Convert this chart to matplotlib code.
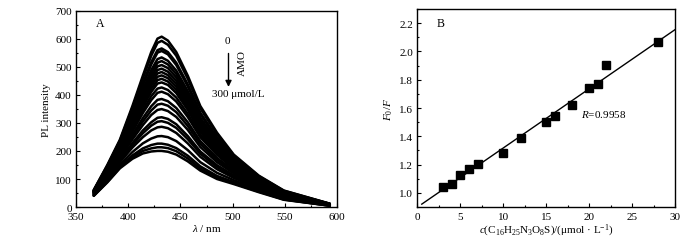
import matplotlib
matplotlib.use("Agg")
import matplotlib.pyplot as plt
from matplotlib.ticker import MultipleLocator, FormatStrFormatter
import numpy as np

plt.rcParams['font.family'] = ['Liberation Serif', 'DejaVu Serif']
plt.rcParams['mathtext.fontset'] = 'custom'
plt.rcParams['mathtext.rm'] = 'Liberation Serif'
plt.rcParams['mathtext.it'] = 'Liberation Serif:italic'
plt.rcParams['font.size'] = 8

# panel A: PL spectra, one row per AMO concentration (0 -> 300 umol/L)
wavelength = [367, 380, 392, 404, 414, 422, 428, 432, 438, 446, 457, 469, 485, 501, 525, 549, 593]
spectra = [
    [61, 150, 240, 360, 468, 552, 600, 607, 593, 552, 468, 360, 265, 187, 112, 59, 12],
    [60, 148, 236, 353, 458, 539, 585, 592, 578, 539, 457, 352, 259, 183, 110, 58, 12],
    [59, 144, 230, 341, 440, 516, 559, 565, 552, 514, 437, 336, 248, 176, 106, 56, 11],
    [58, 142, 227, 337, 433, 508, 550, 556, 544, 506, 430, 331, 244, 174, 105, 55, 11],
    [57, 139, 221, 326, 418, 488, 527, 533, 521, 486, 413, 318, 235, 168, 101, 53, 11],
    [57, 137, 218, 320, 409, 476, 514, 520, 508, 474, 403, 311, 230, 165, 99, 52, 11],
    [56, 135, 215, 313, 399, 464, 501, 506, 495, 462, 392, 303, 224, 161, 97, 51, 10],
    [55, 133, 211, 307, 390, 453, 488, 493, 482, 450, 383, 296, 219, 158, 96, 50, 10],
    [55, 131, 208, 302, 382, 442, 476, 481, 470, 439, 374, 289, 214, 155, 94, 49, 10],
    [54, 129, 205, 296, 374, 432, 464, 469, 459, 428, 365, 282, 209, 151, 92, 48, 10],
    [53, 127, 202, 291, 366, 421, 452, 457, 447, 417, 356, 275, 204, 148, 90, 47, 9],
    [53, 125, 199, 285, 357, 410, 440, 444, 435, 406, 346, 268, 199, 145, 88, 46, 9],
    [52, 122, 195, 276, 345, 395, 422, 426, 417, 390, 332, 258, 192, 140, 86, 44, 9],
    [51, 120, 191, 269, 335, 381, 407, 411, 402, 376, 321, 249, 186, 136, 84, 43, 9],
    [50, 116, 184, 258, 317, 359, 382, 385, 377, 353, 302, 235, 175, 130, 80, 41, 8],
    [49, 114, 180, 250, 305, 344, 365, 368, 361, 338, 289, 225, 168, 125, 77, 40, 8],
    [48, 111, 175, 241, 292, 328, 346, 349, 342, 321, 275, 214, 160, 120, 75, 38, 8],
    [46, 106, 168, 228, 273, 302, 318, 320, 314, 295, 253, 198, 149, 113, 70, 36, 7],
    [46, 104, 165, 221, 263, 290, 304, 306, 300, 282, 242, 190, 143, 109, 68, 35, 7],
    [44, 101, 160, 212, 249, 273, 284, 286, 281, 264, 227, 179, 135, 104, 65, 33, 7],
    [43, 96, 151, 196, 227, 244, 252, 253, 249, 235, 203, 160, 122, 96, 61, 30, 6],
    [41, 92, 145, 184, 209, 221, 226, 226, 222, 210, 183, 145, 111, 89, 57, 28, 5],
    [41, 90, 141, 178, 200, 209, 213, 213, 210, 199, 173, 137, 105, 85, 55, 27, 5],
    [40, 88, 138, 172, 191, 198, 200, 200, 197, 187, 163, 130, 100, 82, 53, 26, 5],
]

# panel B: Stern-Volmer data
conc = [3, 4, 5, 6, 7, 10, 12, 15, 16, 18, 20, 21, 22, 28]
f0_f = [1.04, 1.065, 1.125, 1.17, 1.205, 1.285, 1.385, 1.50, 1.545, 1.62, 1.74, 1.77, 1.905, 2.065]

fig = plt.figure(figsize=(7.0, 2.51), dpi=100)
ax1 = fig.add_axes([0.1086, 0.171, 0.373, 0.783])
ax2 = fig.add_axes([0.5964, 0.171, 0.368, 0.789])

for row in spectra:
    ax1.plot(wavelength, row, color='black', lw=1.8,
             solid_joinstyle='round', solid_capstyle='round')

ax1.set_xlim(350, 600)
ax1.set_ylim(0, 700)
ax1.xaxis.set_major_locator(MultipleLocator(50))
ax1.xaxis.set_minor_locator(MultipleLocator(25))
ax1.yaxis.set_major_locator(MultipleLocator(100))
ax1.yaxis.set_minor_locator(MultipleLocator(50))
ax1.set_xlabel(r'$\lambda$ / nm', labelpad=1)
ax1.set_ylabel('PL intensity', labelpad=3)
ax1.text(369, 657, 'A', ha='left', va='center', fontsize=8.5)
ax1.text(494.7, 593, '0', ha='center', va='center')
ax1.annotate('', xy=(496, 418), xytext=(496, 557),
             arrowprops=dict(arrowstyle='-|>', color='black', lw=1.0, mutation_scale=9))
ax1.text(509, 516, 'AMO', rotation=90, ha='center', va='center')
ax1.text(505.7, 405, '300 μmol/L', ha='center', va='center')

ax2.plot(conc, f0_f, 's', color='black', markersize=6)
k, b = np.polyfit(conc, f0_f, 1)
xfit = np.array([0.5, 30])
ax2.plot(xfit, k * xfit + b, color='black', lw=1.0)
ax2.set_xlim(0, 30)
ax2.set_ylim(0.9, 2.3)
ax2.xaxis.set_major_locator(MultipleLocator(5))
ax2.xaxis.set_minor_locator(MultipleLocator(2.5))
ax2.yaxis.set_major_locator(MultipleLocator(0.2))
ax2.yaxis.set_minor_locator(MultipleLocator(0.1))
ax2.yaxis.set_major_formatter(FormatStrFormatter('%.1f'))
ax2.set_xlabel(r'$c$(C$_{16}$H$_{25}$N$_3$O$_8$S)/(μmol · L$^{-1}$)', labelpad=1)
ax2.set_ylabel(r'$F_0/F$', labelpad=3)
ax2.text(2.25, 2.20, 'B', ha='left', va='center', fontsize=8.5)
ax2.text(19.1, 1.56, r'$R$=0.9958', ha='left', va='center')

for ax in (ax1, ax2):
    ax.tick_params(which='both', direction='in', top=False, right=False)
    ax.tick_params(axis='x', which='both', pad=3.5)
    ax.tick_params(axis='y', which='both', pad=3)
    ax.tick_params(which='major', length=3, width=0.8)
    ax.tick_params(which='minor', length=1.5, width=0.8)
    for s in ax.spines.values():
        s.set_linewidth(1.0)

fig.savefig('out.png', dpi=100)
